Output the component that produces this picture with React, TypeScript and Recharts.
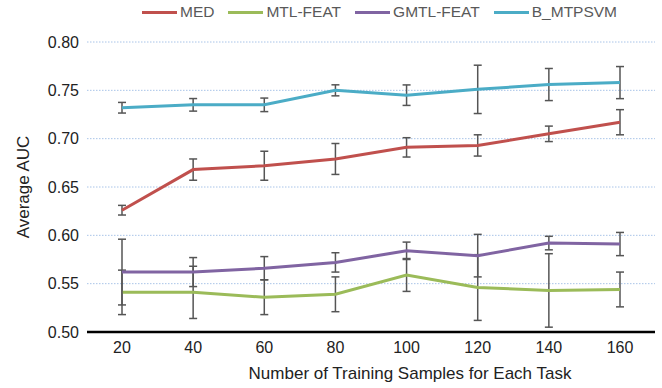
import React from 'react';
import { LineChart, Line, XAxis, YAxis, CartesianGrid, Legend, ErrorBar } from 'recharts';

const samples = [20, 40, 60, 80, 100, 120, 140, 160];

const medAuc = [0.626, 0.668, 0.672, 0.679, 0.691, 0.693, 0.705, 0.717];
const medErr = [0.005, 0.011, 0.015, 0.016, 0.010, 0.011, 0.008, 0.013];

const mtlAuc = [0.541, 0.541, 0.536, 0.539, 0.559, 0.546, 0.543, 0.544];
const mtlErr = [0.023, 0.027, 0.018, 0.018, 0.017, 0.034, 0.038, 0.018];

const gmtlAuc = [0.562, 0.562, 0.566, 0.572, 0.584, 0.579, 0.592, 0.591];
const gmtlErr = [0.034, 0.015, 0.012, 0.010, 0.009, 0.022, 0.007, 0.012];

const bAuc = [0.732, 0.735, 0.735, 0.750, 0.745, 0.751, 0.756, 0.758];
const bErr = [0.0055, 0.0065, 0.007, 0.0057, 0.0106, 0.025, 0.0166, 0.0166];

const yTicks = [0.5, 0.55, 0.6, 0.65, 0.7, 0.75, 0.8];

const series = [
  { key: 'med', err: 'medErr', name: 'MED', color: '#c0504d' },
  { key: 'mtl', err: 'mtlErr', name: 'MTL-FEAT', color: '#9bbb59' },
  { key: 'gmtl', err: 'gmtlErr', name: 'GMTL-FEAT', color: '#8064a2' },
  { key: 'b', err: 'bErr', name: 'B_MTPSVM', color: '#4bacc6' },
];

const data = samples.map((n, i) => ({
  name: String(n),
  med: medAuc[i],
  medErr: medErr[i],
  mtl: mtlAuc[i],
  mtlErr: mtlErr[i],
  gmtl: gmtlAuc[i],
  gmtlErr: gmtlErr[i],
  b: bAuc[i],
  bErr: bErr[i],
}));

const font = '"Liberation Sans", Arial, sans-serif';

function renderLegend() {
  return (
    <div style={{ display: 'flex', alignItems: 'center', fontFamily: font, fontSize: 15.5, color: '#595959' }}>
      {series.map((s) => (
        <div key={s.key} style={{ display: 'flex', alignItems: 'center', marginRight: 14 }}>
          <div style={{ width: 35, height: 3, background: s.color, marginRight: 3 }} />
          <span>{s.name}</span>
        </div>
      ))}
    </div>
  );
}

export default function App() {
  return (
    <div style={{ position: 'absolute', left: 0, top: 0, background: '#fff' }}>
      <LineChart width={662} height={388} data={data} margin={{ top: 42, right: 7, bottom: 0, left: 0 }}>
        <CartesianGrid vertical={false} stroke="#a9c4e8" strokeDasharray="1.5 1.5" />
        <XAxis
          dataKey="name"
          height={56}
          padding={{ left: 35, right: 35 }}
          tickLine={false}
          axisLine={{ stroke: '#000', strokeWidth: 2.5 }}
          tickMargin={4}
          tick={{ fill: '#222', fontSize: 16, fontFamily: font }}
          label={{
            value: 'Number of Training Samples for Each Task',
            position: 'insideBottom',
            offset: 9,
            dx: 39,
            fill: '#222',
            fontSize: 17,
            fontFamily: font,
          }}
        />
        <YAxis
          width={87}
          domain={[0.5, 0.8]}
          ticks={yTicks}
          tickFormatter={(v: number) => v.toFixed(2)}
          axisLine={false}
          tickLine={false}
          tickMargin={2}
          tick={{ fill: '#222', fontSize: 16, fontFamily: font }}
          label={{
            value: 'Average AUC',
            angle: -90,
            position: 'insideLeft',
            offset: 23,
            style: { textAnchor: 'middle' },
            fill: '#222',
            fontSize: 17,
            fontFamily: font,
          }}
        />
        <Legend
          content={renderLegend}
          verticalAlign="middle"
          wrapperStyle={{ top: 3, left: 142, width: 520 }}
        />
        {series.map((s) => (
          <Line
            key={s.key}
            type="linear"
            dataKey={s.key}
            name={s.name}
            stroke={s.color}
            strokeWidth={3}
            dot={false}
            activeDot={false}
            isAnimationActive={false}
          >
            <ErrorBar dataKey={s.err} width={4} stroke="#555" strokeWidth={1.5} />
          </Line>
        ))}
      </LineChart>
    </div>
  );
}
